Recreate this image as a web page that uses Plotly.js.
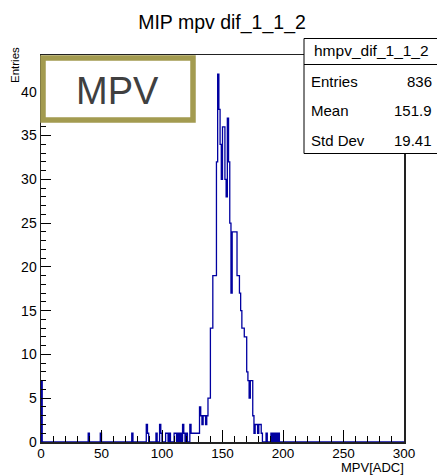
<!DOCTYPE html>
<html>
<head>
<meta charset="utf-8">
<script src="https://cdn.plot.ly/plotly-3.0.1.min.js"></script>
<style>html,body{margin:0;padding:0;background:#fff;}#chart{width:437px;height:476px;}</style>
</head>
<body>
<div id="chart"></div>
<script>
// Histogram data: bin lower edges (bin width 1 ADC, 0..300) and counts of non-empty bins
const binEdges = [0, 39, 49, 75, 87, 88, 95, 98, 99, 103, 104, 106, 110, 111, 113, 115, 117, 118, 120, 123, 124, 125, 126, 127, 128, 129, 130,
  131, 132, 133, 134, 135, 136, 137, 138, 139,
  140, 141, 142, 143, 144, 145, 146, 147, 148, 149,
  150, 151, 152, 153, 154, 155, 156, 157, 158, 159,
  160, 161, 162, 163, 164, 165, 166, 167, 168, 169,
  170, 171, 172, 173, 174, 175, 176, 177, 178, 179, 180, 181, 182,
  186, 190, 192, 194, 196];
const binCounts = [7, 1, 1, 1, 2, 1, 1, 2, 1, 1, 1, 1, 1, 1, 1, 1, 2, 1, 1, 2, 1, 1, 1, 1, 1, 1, 1,
  4, 3, 2, 3, 3, 2, 3, 5, 5,
  13, 13, 19, 19, 19, 32, 42, 38, 34, 30,
  36, 36, 30, 28, 37, 32, 25, 17, 24, 24,
  24, 24, 19, 19, 17, 15, 13, 13, 12, 12,
  8, 7, 5, 7, 7, 3, 1, 2, 2, 1, 2, 2, 1,
  1, 1, 1, 1, 1];
const nBins = 300, xMin = 0, xMax = 300;
const chartTitle = 'MIP mpv dif_1_1_2';
const histName = 'hmpv_dif_1_1_2';
const statLabels = ['Entries', 'Mean', 'Std Dev'];
const statValues = ['836', '151.9', '19.41'];

// Build full histogram and ROOT-like step outline
const width = (xMax - xMin) / nBins;
const full = new Array(nBins).fill(0);
binEdges.forEach((e, i) => { full[Math.round((e - xMin) / width)] = binCounts[i]; });
const xs = [xMin], ys = [0];
for (let i = 0; i < nBins; i++) { xs.push(xMin + i * width); ys.push(full[i]); }
xs.push(xMax); ys.push(full[nBins - 1]);

// Pixel helpers (plot area geometry)
const L = 41, R = 33, T = 55, B = 34, W = 437, H = 476;
const pw = W - L - R, ph = H - T - B;
const px = v => (v - L) / pw;
const py = v => (H - B - v) / ph;

const FONT = 'Liberation Sans, Arial, Helvetica, sans-serif';
const annotations = [
  {text: 'MPV', x: px(117), y: py(91), xref: 'paper', yref: 'paper', showarrow: false,
   font: {family: FONT, size: 38, color: '#404040'}, xanchor: 'center', yanchor: 'middle'},
  {text: histName, x: px(371), y: py(51), xref: 'paper', yref: 'paper', showarrow: false,
   font: {family: FONT, size: 15.5, color: '#000'}, xanchor: 'center', yanchor: 'middle'},
  {text: 'Entries', x: px(15), y: py(65), xref: 'paper', yref: 'paper', showarrow: false, textangle: -90,
   font: {family: FONT, size: 11.5, color: '#000'}, xanchor: 'center', yanchor: 'middle'},
  {text: 'MPV[ADC]', x: px(405), y: py(476), xref: 'paper', yref: 'paper', showarrow: false, borderpad: 0,
   font: {family: FONT, size: 13, color: '#000'}, xanchor: 'right', yanchor: 'bottom'}
];
const rowY = [81, 111, 140];
statLabels.forEach((lab, i) => {
  annotations.push({text: lab, x: px(309), y: py(rowY[i]), xref: 'paper', yref: 'paper', showarrow: false,
    font: {family: FONT, size: 15, color: '#000'}, xanchor: 'left', yanchor: 'middle'});
  annotations.push({text: statValues[i], x: px(434), y: py(rowY[i]), xref: 'paper', yref: 'paper', showarrow: false,
    font: {family: FONT, size: 15, color: '#000'}, xanchor: 'right', yanchor: 'middle'});
});

const shapes = [
  {type: 'rect', xref: 'paper', yref: 'paper', x0: px(43), x1: px(193), y0: py(58), y1: py(120),
   line: {color: '#a39b50', width: 5.5}, fillcolor: '#ffffff', layer: 'above'},
  {type: 'rect', xref: 'paper', yref: 'paper', x0: px(304), x1: px(445), y0: py(38.5), y1: py(153.5),
   line: {color: '#000', width: 1}, fillcolor: '#ffffff', layer: 'above'},
  {type: 'line', xref: 'paper', yref: 'paper', x0: px(304), x1: px(445), y0: py(64.5), y1: py(64.5),
   line: {color: '#000', width: 1}, layer: 'above'}
];

const trace = {x: xs, y: ys, type: 'scatter', mode: 'lines', line: {shape: 'hv', color: '#0000a0', width: 1.3},
  hoverinfo: 'skip', cliponaxis: false};

const layout = {
  width: W, height: H,
  margin: {l: L, r: R, t: T, b: B, pad: 0},
  paper_bgcolor: '#fff', plot_bgcolor: '#fff',
  showlegend: false,
  title: {text: chartTitle, x: 222 / W, xanchor: 'center', y: 1 - 22 / H, yanchor: 'middle',
    font: {family: FONT, size: 19.5, color: '#000'}},
  xaxis: {range: [xMin, xMax], tickmode: 'linear', tick0: 0, dtick: 50, ticks: 'inside', ticklen: 12,
    tickcolor: '#000', tickwidth: 1, showgrid: false, zeroline: false, showline: true, mirror: true,
    linecolor: '#222', linewidth: 1.5, tickfont: {family: FONT, size: 13.5, color: '#000'}, ticklabelstandoff: -2,
    minor: {dtick: 10, ticks: 'inside', ticklen: 6, tickcolor: '#000', tickwidth: 1, showgrid: false}},
  yaxis: {range: [0, 44.2], tickmode: 'linear', tick0: 0, dtick: 5, ticks: 'inside', ticklen: 10,
    tickcolor: '#000', tickwidth: 1, showgrid: false, zeroline: false, showline: true, mirror: true,
    linecolor: '#222', linewidth: 1.5, tickfont: {family: FONT, size: 14, color: '#000'},
    minor: {dtick: 1, ticks: 'inside', ticklen: 5, tickcolor: '#000', tickwidth: 1, showgrid: false}},
  shapes: shapes,
  annotations: annotations
};

Plotly.newPlot('chart', [trace], layout, {staticPlot: true, displayModeBar: false});
</script>
</body>
</html>
